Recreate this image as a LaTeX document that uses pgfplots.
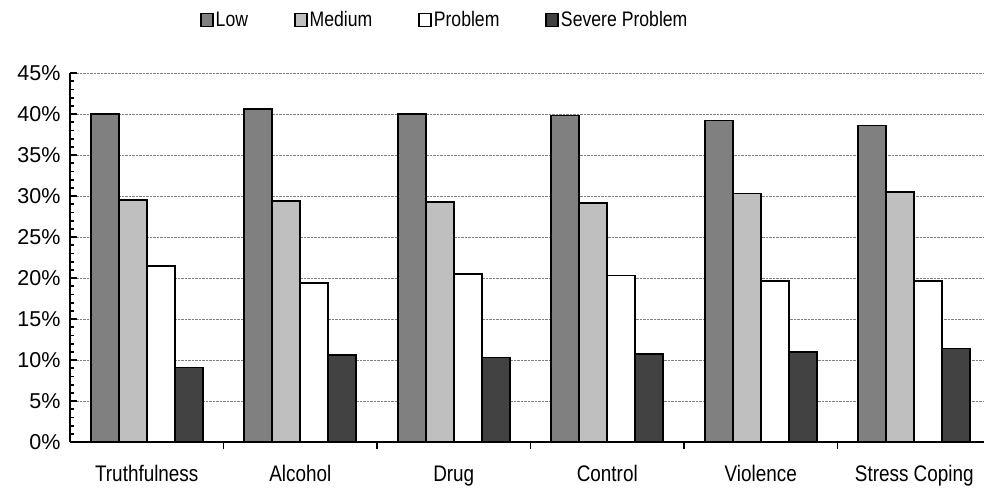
\documentclass[border=0pt]{standalone}
\usepackage{fontspec}
\setmainfont{Liberation Sans}
\newfontfamily\narrow{Liberation Sans}[FakeStretch=0.84]
\usepackage{pgfplots}
\pgfplotsset{compat=1.18}
\definecolor{cLow}{gray}{0.50}
\definecolor{cMed}{gray}{0.75}
\definecolor{cProb}{gray}{1.0}
\definecolor{cSev}{gray}{0.26}
\pgfplotsset{
  myleg/.style={legend image code/.code={\draw[##1,line width=1.5pt] (0pt,-6.5pt) rectangle (12pt,6.5pt);}},
}
\begin{document}
\begin{tikzpicture}
\begin{axis}[
  scale only axis,
  width=921pt, height=369pt,
  xmin=-0.5, xmax=5.5,
  ymin=0, ymax=45,
  ybar=0pt, bar width=28pt,
  axis x line*=bottom, axis y line*=left,
  axis line style={line width=2pt, black},
  xtick align=outside, ytick align=inside,
  major tick length=7pt, minor tick length=4pt,
  tick style={line width=1.8pt, black},
  ytick={0,5,...,45},
  yticklabels={0\%,5\%,10\%,15\%,20\%,25\%,30\%,35\%,40\%,45\%},
  minor y tick num=4,
  ymajorgrids,
  major grid style={densely dotted, line width=0.8pt, gray},
  y tick label style={font=\fontsize{21.5}{24}\selectfont, xshift=-6pt},
  xtick={0.5,1.5,2.5,3.5,4.5},
  xticklabels={},
  extra x ticks={0,1,2,3,4,5},
  extra x tick labels={Truthfulness,Alcohol,Drug,Control,Violence,Stress Coping},
  extra x tick style={tick style={draw=none}, grid=none,
     tick label style={font=\narrow\fontsize{22.5}{24}\selectfont, yshift=-13pt}},
  legend columns=-1,
  legend style={draw=none, fill=none, at={(axis description cs:0.407,1.144)}, anchor=center,
     font=\narrow\fontsize{21}{24}\selectfont,
     /tikz/every even column/.append style={column sep=44pt},
     nodes={inner sep=2pt}},
]
\addplot[fill=cLow, draw=black, line width=1.7pt, myleg] coordinates {(0,40.0) (1,40.6) (2,40.0) (3,39.8) (4,39.2) (5,38.6)};
\addplot[fill=cMed, draw=black, line width=1.7pt, myleg] coordinates {(0,29.5) (1,29.4) (2,29.3) (3,29.15) (4,30.3) (5,30.5)};
\addplot[fill=cProb, draw=black, line width=1.7pt, myleg] coordinates {(0,21.5) (1,19.4) (2,20.45) (3,20.3) (4,19.6) (5,19.6)};
\addplot[fill=cSev, draw=black, line width=1.7pt, myleg] coordinates {(0,9.1) (1,10.6) (2,10.3) (3,10.7) (4,11.0) (5,11.4)};
\legend{Low,Medium,Problem,Severe Problem}
\end{axis}
\pgfresetboundingbox
\path[use as bounding box] (-70pt,-49pt) rectangle (914pt,442pt);
\end{tikzpicture}
\end{document}
